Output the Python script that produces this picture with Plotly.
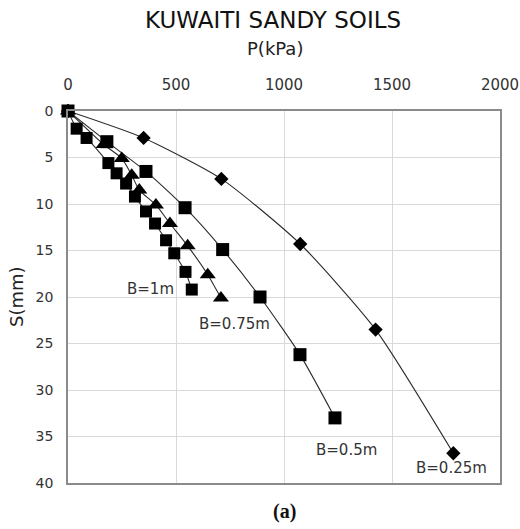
import plotly.graph_objects as go

# Load P (kPa) vs settlement S (mm) for four footing widths
p_025 = [0, 350, 710, 1075, 1424, 1784]
s_025 = [0, 2.9, 7.3, 14.3, 23.5, 36.8]

p_050 = [0, 180, 361, 542, 716, 889, 1074, 1236]
s_050 = [0, 3.3, 6.5, 10.4, 14.9, 20.0, 26.2, 33.0]

p_075 = [0, 165, 249, 295, 330, 407, 472, 554, 647, 708]
s_075 = [0, 3.6, 5.1, 6.9, 8.5, 10.1, 12.1, 14.5, 17.6, 20.1]

p_100 = [0, 40, 86, 187, 225, 269, 310, 361, 403, 454, 492, 544, 573]
s_100 = [0, 1.9, 2.9, 5.6, 6.7, 7.8, 9.2, 10.8, 12.1, 13.9, 15.3, 17.3, 19.2]

labels = ["B=1m", "B=0.75m", "B=0.5m", "B=0.25m"]
label_p = [380, 770, 1290, 1775]
label_s = [19.1, 22.9, 36.4, 38.4]

x_ticks = [0, 500, 1000, 1500, 2000]
y_ticks = [0, 5, 10, 15, 20, 25, 30, 35, 40]

FONT = "DejaVu Sans, sans-serif"
LINE = dict(color="#2a2a2a", width=1.1, shape="spline", smoothing=0.6)

fig = go.Figure()
series = [
    (p_025, s_025, "diamond", 11),
    (p_050, s_050, "square", 13),
    (p_075, s_075, "triangle-up", 14),
    (p_100, s_100, "square", 12),
]
for px, sy, sym, size in series:
    fig.add_trace(go.Scatter(
        x=px, y=sy, mode="lines+markers", line=LINE,
        marker=dict(symbol=sym, size=size, color="black"),
        showlegend=False, cliponaxis=False,
    ))

for text, lx, ly in zip(labels, label_p, label_s):
    fig.add_annotation(x=lx, y=ly, text=text, showarrow=False,
                       font=dict(family=FONT, size=15, color="#333333"))

# Chart title and axis titles
fig.add_annotation(x=0.5, y=1, xref="paper", yref="paper", yanchor="middle",
                   xshift=-11, yshift=91,
                   text="KUWAITI SANDY SOILS", showarrow=False,
                   font=dict(family=FONT, size=23, color="#111111"))
fig.add_annotation(x=0.5, y=1, xref="paper", yref="paper", yanchor="middle",
                   xshift=-9, yshift=63,
                   text="P(kPa)", showarrow=False,
                   font=dict(family=FONT, size=18, color="#222222"))
fig.add_annotation(x=0, y=0.5, xref="paper", yref="paper", xanchor="center", xshift=-52,
                   text="S(mm)", textangle=-90, showarrow=False,
                   font=dict(family=FONT, size=18, color="#222222"))
fig.add_annotation(x=0.5, y=0, xref="paper", yref="paper", yanchor="middle", yshift=-28,
                   text="<b>(a)</b>", showarrow=False,
                   font=dict(family="Liberation Serif, Times New Roman, serif", size=20, color="#111111"))

fig.update_layout(
    width=520, height=529,
    margin=dict(l=68, r=20, t=111, b=46, autoexpand=False),
    paper_bgcolor="white", plot_bgcolor="white",
    font=dict(family=FONT, size=15, color="#333333"),
    xaxis=dict(
        side="top", range=[0, 2000], tickvals=x_ticks, automargin=False,
        showgrid=True, gridcolor="#d9d9d9", gridwidth=1,
        showline=True, linecolor="#8a8a8a", linewidth=1.5, mirror=True,
        ticks="outside", ticklen=13, tickcolor="rgba(0,0,0,0)",
        zeroline=False,
    ),
    yaxis=dict(
        range=[40, 0], tickvals=y_ticks, automargin=False,
        showgrid=True, gridcolor="#d9d9d9", gridwidth=1,
        showline=True, linecolor="#8a8a8a", linewidth=1.5, mirror=True,
        ticks="outside", ticklen=10, tickcolor="rgba(0,0,0,0)",
        zeroline=False, tickfont=dict(size=14),
    ),
)

fig.write_html("out.html")
